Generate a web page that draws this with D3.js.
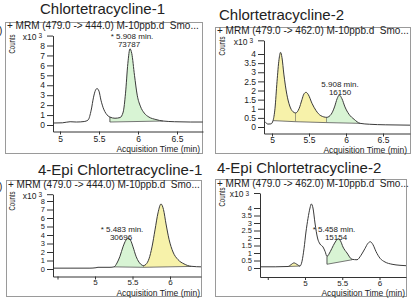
<!DOCTYPE html>
<html>
<head>
<meta charset="utf-8">
<script src="https://cdn.jsdelivr.net/npm/d3@7"></script>
<style>
  body { margin: 0; background: #fff; }
  svg text { font-family: "Liberation Sans", Arial, sans-serif; fill: #222; }
</style>
</head>
<body>
<div id="plot"></div>
<script>
window.addEventListener("load", main)

// traces, counts in x10^3, time in min
const p1Time = [4.92, 5.03, 5.13, 5.21, 5.31, 5.36, 5.40, 5.43, 5.455, 5.474, 5.50, 5.525, 5.56, 5.59, 5.64, 5.705, 5.77, 5.81, 5.84, 5.87, 5.897, 5.92, 5.955, 5.99, 6.03, 6.08, 6.14, 6.23, 6.32, 6.47, 6.67, 6.83];
const p1Counts = [0.2, 0.22, 0.33, 0.3, 0.35, 0.5, 1.5, 2.8, 3.5, 3.67, 3.4, 2.5, 1.6, 1.15, 0.8, 0.68, 0.75, 1.3, 3.2, 6.2, 7.67, 7.2, 5.0, 3.0, 1.9, 1.2, 0.8, 0.55, 0.4, 0.33, 0.3, 0.3];

const p2Time = [4.905, 4.946, 4.986, 5.014, 5.04, 5.068, 5.095, 5.115, 5.135, 5.16, 5.2, 5.24, 5.28, 5.32, 5.365, 5.405, 5.43, 5.46, 5.49, 5.54, 5.595, 5.66, 5.74, 5.8, 5.845, 5.88, 5.91, 5.945, 5.986, 6.04, 6.11, 6.19, 6.32, 6.53, 6.88];
const p2Counts = [0.29, 0.16, 0.17, 0.35, 1.0, 2.5, 3.7, 4.09, 3.8, 2.9, 1.8, 1.15, 0.85, 0.77, 1.0, 1.5, 1.8, 1.9, 1.78, 1.3, 0.9, 0.62, 0.53, 0.7, 1.1, 1.55, 1.75, 1.55, 1.1, 0.7, 0.42, 0.2, 0.15, 0.12, 0.1];

const p3Time = [4.453, 4.667, 4.933, 5.013, 5.04, 5.2, 5.253, 5.293, 5.333, 5.373, 5.413, 5.444, 5.473, 5.507, 5.547, 5.587, 5.627, 5.647, 5.68, 5.72, 5.76, 5.8, 5.84, 5.88, 5.913, 5.947, 5.987, 6.04, 6.107, 6.187, 6.28, 6.427];
const p3Counts = [0.1, 0.1, 0.1, 0.15, 0.2, 0.2, 0.25, 0.7, 1.5, 2.6, 3.4, 3.6, 3.4, 2.6, 1.5, 0.8, 0.45, 0.4, 0.55, 1.2, 2.6, 4.6, 6.6, 7.65, 7.0, 5.3, 3.5, 2.0, 1.1, 0.6, 0.32, 0.25];

const p4Time = [4.396, 4.6, 4.772, 4.812, 4.852, 4.893, 4.933, 4.96, 4.987, 5.013, 5.04, 5.067, 5.085, 5.107, 5.134, 5.168, 5.201, 5.242, 5.27, 5.295, 5.34, 5.38, 5.415, 5.443, 5.477, 5.51, 5.564, 5.631, 5.698, 5.752, 5.805, 5.846, 5.877, 5.913, 5.953, 6.007, 6.074, 6.168, 6.275, 6.369];
const p4Counts = [0.08, 0.08, 0.1, 0.22, 0.34, 0.24, 0.13, 0.45, 1.3, 2.4, 3.3, 4.0, 4.27, 4.0, 3.0, 2.0, 1.6, 1.4, 1.1, 0.78, 1.1, 1.5, 1.8, 1.95, 1.8, 1.4, 1.0, 0.58, 0.55, 0.85, 1.3, 1.65, 1.75, 1.55, 1.1, 0.65, 0.4, 0.25, 0.18, 0.15];

// integrated peaks: [start, end, baseline at start, baseline at end, role]
const p1Peaks = [[5.64, 6.32, 0.3, 0.4, "target"]];
const p2Peaks = [[5.014, 5.32, 0.35, 0.29, "other"], [5.32, 5.74, 0.29, 0.24, "other"], [5.74, 6.19, 0.24, 0.2, "target"]];
const p3Peaks = [[5.253, 5.647, 0.25, 0.2, "target"], [5.647, 6.28, 0.2, 0.3, "other"]];
const p4Peaks = [[4.772, 4.933, 0.1, 0.13, "other"], [5.295, 5.631, 0.25, 0.55, "target"]];

const titles = ["Chlortetracycline-1", "Chlortetracycline-2", "4-Epi Chlortetracycline-1", "4-Epi Chlortetracycline-2"];
const headers = ["+ MRM (479.0 -> 444.0) M-10ppb.d  Smo...", "+ MRM (479.0 -> 462.0) M-10ppb.d  Smo...",
                 "+ MRM (479.0 -> 444.0) M-10ppb.d  Smo...", "+ MRM (479.0 -> 462.0) M-10ppb.d  Smo..."];
const rtLabels = ["* 5.908 min.", "5.908 min.", "* 5.483 min.", "* 5.458 min."];
const areaLabels = ["73787", "16150", "30696", "15154"];
const yAxisTop = [9, 4.75, 8.8, 5];
const xTicksTop = [5, 5.5, 6, 6.5];
const xTickLabelsTop = ["5", "5.5", "6", "6.5"];
const xTicksBottom = [4.5, 5, 5.5, 6];
const xTickLabelsBottom = ["", "5", "5.5", "6"];
const yTicksWhole = [0, 1, 2, 3, 4, 5, 6, 7, 8];
const yTicksHalf = [0, 0.5, 1, 1.5, 2, 2.5, 3, 3.5, 4];

function main(){

  const width = 415, height = 299;
  let svg1 = d3.select("#plot").append('svg')
    .attr("width", width)
    .attr("height", height)
    .attr("id", "svg1");

  const fillColor = d3.scaleOrdinal()
    .domain(["target", "other"])
    .range(["#d8f4d4", "#f7f2aa"]);

  const layout = [
    { time: p1Time, counts: p1Counts, peaks: p1Peaks,
      box: [5.5, 22.5, 197, 131], xRef: [[5, 6.5], [60, 177]], yRef: [[0, 8], [125, 45.5]],
      axisX: 53, axisY: 131.5, right: 203, xTicks: xTicksTop, xLabels: xTickLabelsTop, yTicks: yTicksWhole,
      tickFont: 8.5, xFont: 8.5, xPad: 1, title: [40, 14], head: [7, 28.5], countsAt: [12, 44], xLabelAt: [200, 151.5],
      ann: [132, 38.5, 129, 46.5], paren: 34 },
    { time: p2Time, counts: p2Counts, peaks: p2Peaks,
      box: [215.5, 27.5, 195, 126], xRef: [[5, 6.5], [272, 383]], yRef: [[0, 4], [127, 54]],
      axisX: 264, axisY: 133.5, right: 410, xTicks: xTicksTop, xLabels: xTickLabelsTop, yTicks: yTicksHalf,
      tickFont: 8.5, xFont: 8.5, xPad: 0, title: [219, 20], head: [217, 33.5], countsAt: [222, 46], xLabelAt: [407, 152.5],
      ann: [340, 86.5, 340, 94.5] },
    { time: p3Time, counts: p3Counts, peaks: p3Peaks,
      box: [6.5, 180.5, 195, 116], xRef: [[5, 6], [95, 170]], yRef: [[0, 8], [269, 201]],
      axisX: 53, axisY: 276.5, right: 201, xTicks: xTicksBottom, xLabels: xTickLabelsBottom, yTicks: yTicksWhole,
      tickFont: 7.5, xFont: 8, xPad: 0, title: [38, 175], head: [8, 188], countsAt: [12, 201], xLabelAt: [200, 295.5],
      ann: [122, 231.5, 121, 239.5], paren: 190 },
    { time: p4Time, counts: p4Counts, peaks: p4Peaks,
      box: [215.5, 179.5, 191, 117], xRef: [[5, 6], [305, 379.5]], yRef: [[0, 4], [268, 208]],
      axisX: 260, axisY: 277, right: 406, xTicks: xTicksBottom, xLabels: xTickLabelsBottom, yTicks: yTicksHalf,
      tickFont: 7.5, xFont: 8, xPad: 0, title: [217, 173], head: [217, 187], countsAt: [222, 197], xLabelAt: [405, 295.5],
      ann: [334, 231.5, 336, 239.5] }
  ];

  layout.forEach(drawPanel);

  // one chromatogram panel
  function drawPanel(p, i){
    let g = svg1.append("g").attr("id", "panel" + (i + 1));

    // scales from two reference ticks, then stretched to the axis ends
    let xRefSc = d3.scaleLinear().domain(p.xRef[0]).range(p.xRef[1]);
    let x = d3.scaleLinear()
      .domain([xRefSc.invert(p.axisX), xRefSc.invert(p.right)])
      .range([p.axisX, p.right]);
    let yRefSc = d3.scaleLinear().domain(p.yRef[0]).range(p.yRef[1]);
    let y = d3.scaleLinear()
      .domain([yRefSc.invert(p.axisY), yAxisTop[i]])
      .range([p.axisY, yRefSc(yAxisTop[i])]);

    // frame
    g.append("rect")
      .attr("x", p.box[0]).attr("y", p.box[1])
      .attr("width", p.box[2]).attr("height", p.box[3])
      .attr("fill", "none").attr("stroke", "#9a9a9a");

    // title + header
    g.append("text").attr("x", p.title[0]).attr("y", p.title[1])
      .attr("font-size", 15).text(titles[i]);
    g.append("text").attr("x", p.head[0]).attr("y", p.head[1])
      .attr("font-size", 10).attr("xml:space", "preserve").text(headers[i]);
    g.append("text")
      .attr("transform", `translate(${p.countsAt[0] + 3},${p.countsAt[1]}) rotate(-90)`)
      .attr("text-anchor", "middle").attr("font-size", 8.5)
      .attr("textLength", 19).attr("lengthAdjust", "spacingAndGlyphs")
      .text("Counts");
    if (p.paren) {
      svg1.append("text").attr("x", -1).attr("y", p.paren).attr("font-size", 10).text(")");
    }

    const pts = d3.zip(p.time, p.counts);
    const clipId = "clip" + i;
    g.append("clipPath").attr("id", clipId)
      .append("rect")
        .attr("x", p.axisX).attr("y", p.box[1])
        .attr("width", p.right - p.axisX).attr("height", p.axisY - p.box[1]);

    // integrated areas
    let fills = g.append("g").attr("clip-path", `url(#${clipId})`);
    let drops = new Set();
    p.peaks.forEach(function(pk, j){
      let base = d3.scaleLinear().domain([pk[0], pk[1]]).range([pk[2], pk[3]]);
      let cid = "pk" + i + "_" + j;
      fills.append("clipPath").attr("id", cid)
        .append("rect")
          .attr("x", x(pk[0])).attr("y", p.box[1])
          .attr("width", x(pk[1]) - x(pk[0])).attr("height", p.axisY - p.box[1]);
      let area = d3.area()
        .x(d => x(d[0]))
        .y0(d => y(base(d[0])))
        .y1(d => y(d[1]))
        .curve(d3.curveMonotoneX);
      fills.append("path")
        .datum(pts)
        .attr("clip-path", `url(#${cid})`)
        .attr("d", area)
        .attr("fill", fillColor(pk[4]));
      fills.append("line")
        .attr("x1", x(pk[0])).attr("y1", y(pk[2]))
        .attr("x2", x(pk[1])).attr("y2", y(pk[3]))
        .attr("stroke", "#555").attr("stroke-width", 0.8);
      [[pk[0], pk[2]], [pk[1], pk[3]]].forEach(function(b){
        let v = p.counts[p.time.indexOf(b[0])];
        if (v - b[1] > 0.05 && !drops.has(b[0])) {
          drops.add(b[0]);
          fills.append("line")
            .attr("x1", x(b[0])).attr("x2", x(b[0]))
            .attr("y1", y(v)).attr("y2", y(b[1]))
            .attr("stroke", "#444").attr("stroke-width", 0.9);
        }
      });
    });

    // trace
    let line = d3.line().x(d => x(d[0])).y(d => y(d[1])).curve(d3.curveMonotoneX);
    g.append("path")
      .datum(pts)
      .attr("clip-path", `url(#${clipId})`)
      .attr("d", line)
      .attr("fill", "none")
      .attr("stroke", "#3a3a3a")
      .attr("stroke-width", 1);

    // axes
    let yAxis = d3.axisLeft(y)
      .tickValues(p.yTicks.concat([yAxisTop[i]]))
      .tickSize(6).tickPadding(2).tickSizeOuter(0)
      .tickFormat(d => d === yAxisTop[i] ? "x10" : d3.format("")(d));
    let yg = g.append("g")
      .attr("transform", `translate(${p.axisX},0)`)
      .call(yAxis)
      .attr("font-size", p.tickFont).attr("color", "#333");
    yg.selectAll(".tick text")
      .filter(d => d === yAxisTop[i])
      .attr("dx", -3).attr("dy", "0.45em")
      .attr("font-size", 8.5)
      .append("tspan").attr("dy", -1.5).attr("font-size", 6.5).text(" 3");

    let xAxis = d3.axisBottom(x)
      .tickValues(p.xTicks)
      .tickSize(3).tickPadding(p.xPad).tickSizeOuter(0)
      .tickFormat((d, k) => p.xLabels[k]);
    g.append("g")
      .attr("transform", `translate(0,${p.axisY})`)
      .call(xAxis)
      .attr("font-size", p.xFont).attr("color", "#333");

    g.append("text")
      .attr("x", p.xLabelAt[0]).attr("y", p.xLabelAt[1])
      .attr("text-anchor", "end").attr("font-size", 8.5)
      .text("Acquisition Time (min)");

    // peak annotation
    g.append("text").attr("x", p.ann[0]).attr("y", p.ann[1])
      .attr("text-anchor", "middle").attr("font-size", 8).text(rtLabels[i]);
    g.append("text").attr("x", p.ann[2]).attr("y", p.ann[3])
      .attr("text-anchor", "middle").attr("font-size", 8).text(areaLabels[i]);
  }
} // end of main
</script>
</body>
</html>
